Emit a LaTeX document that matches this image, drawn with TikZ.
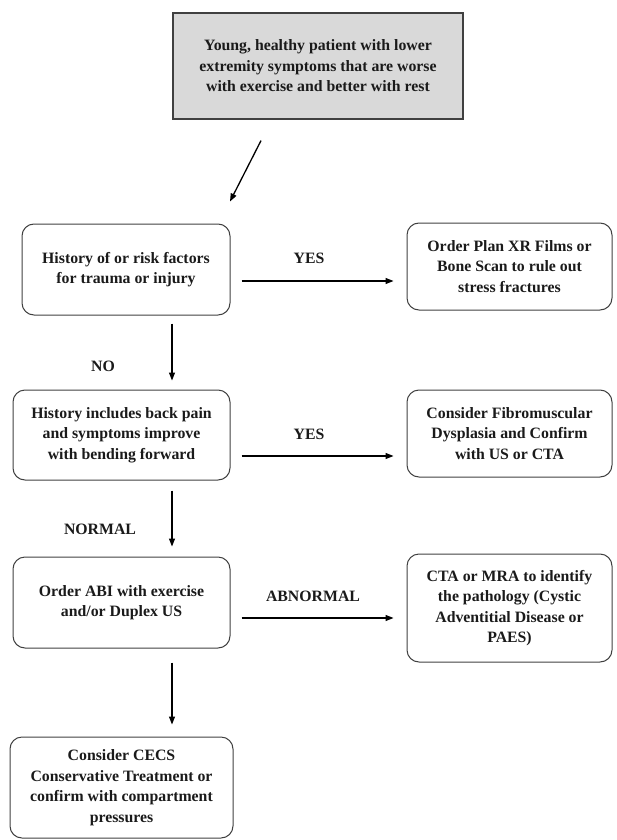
\documentclass[tikz,border=0pt]{standalone}
\usepackage{fontspec}
\setmainfont{Liberation Serif}
\usetikzlibrary{arrows.meta}
\definecolor{boxline}{HTML}{404040}
\definecolor{topfill}{HTML}{D9D9D9}
\definecolor{txt}{HTML}{1A1A1A}
\tikzset{
  stepbox/.style={draw=boxline, line width=1pt, rounded corners=12pt, align=center,
    inner sep=0pt, font=\bfseries\fontsize{15.8}{20.5}\selectfont, text=txt},
  topbox/.style={draw=boxline, line width=1.2pt, fill=topfill, align=center,
    inner sep=0pt, font=\bfseries\fontsize{15.8}{20.5}\selectfont, text=txt},
  lbl/.style={font=\bfseries\fontsize{15.8}{20.5}\selectfont, text=txt, inner sep=0pt},
  arr/.style={draw=black, line width=1.3pt, -{Triangle[length=8pt,width=6pt]}}
}
\begin{document}
\begin{tikzpicture}[x=1pt,y=-1pt]
\useasboundingbox (0,0) rectangle (616,840);
% boxes
\node[topbox, minimum width=290pt, minimum height=106pt] (top) at (318,66)
  {Young, healthy patient with lower\\extremity symptoms that are worse\\with exercise and better with rest};
\node[stepbox, minimum width=208pt, minimum height=91pt] (b1) at (126,269.5)
  {History of or risk factors\\for trauma or injury};
\node[stepbox, minimum width=217pt, minimum height=90pt] (b2) at (121.5,435)
  {History includes back pain\\and symptoms improve\\with bending forward};
\node[stepbox, minimum width=217pt, minimum height=91pt] (b3) at (121.5,602.5)
  {Order ABI with exercise\\and/or Duplex US};
\node[stepbox, minimum width=223pt, minimum height=101pt] (b4) at (121.5,787.5)
  {Consider CECS\\Conservative Treatment or\\confirm with compartment\\pressures};
\node[stepbox, minimum width=205pt, minimum height=87pt] (r1) at (509.5,266.5)
  {Order Plan XR Films or\\Bone Scan to rule out\\stress fractures};
\node[stepbox, minimum width=205pt, minimum height=87pt] (r2) at (509.5,433.5)
  {Consider Fibromuscular\\Dysplasia and Confirm\\with US or CTA};
\node[stepbox, minimum width=205pt, minimum height=108pt] (r3) at (509.5,608)
  {CTA or MRA to identify\\the pathology (Cystic\\Adventitial Disease or\\PAES)};
% labels
\node[lbl] (lno) at (103,366) {NO};
\node[lbl] (lnormal) at (100,529) {NORMAL};
\node[lbl] (lyes1) at (309,258) {YES};
\node[lbl] (lyes2) at (309,434) {YES};
\node[lbl] (labn) at (313,596) {ABNORMAL};
% vertical axis for down arrows
\coordinate (ax) at (172,0);
% diagonal arrow
\draw[arr] ([shift={(-57pt,-21pt)}]top.south) -- ([shift={(104pt,22pt)}]b1.north);
% down arrows
\draw[arr, shorten <=8pt, shorten >=9pt] (b1.south -| ax) -- (b2.north -| ax);
\draw[arr, shorten <=10pt, shorten >=10pt] (b2.south -| ax) -- (b3.north -| ax);
\draw[arr, shorten <=14pt, shorten >=12pt] (b3.south -| ax) -- (b4.north -| ax);
% horizontal arrows
\draw[arr, shorten <=11pt, shorten >=13pt] ([yshift=-11.5pt]b1.east) -- ([yshift=-11.5pt]b1.east -| r1.west);
\draw[arr, shorten <=11pt, shorten >=13pt] ([yshift=-21pt]b2.east) -- ([yshift=-21pt]b2.east -| r2.west);
\draw[arr, shorten <=11pt, shorten >=13pt] ([yshift=-15.5pt]b3.east) -- ([yshift=-15.5pt]b3.east -| r3.west);
\end{tikzpicture}
\end{document}
